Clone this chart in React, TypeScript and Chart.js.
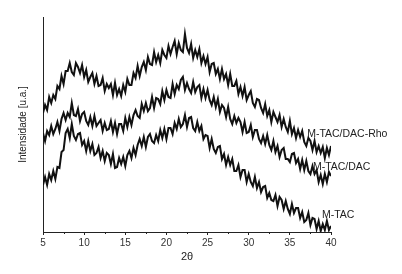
import React, { useEffect, useRef } from "react";
import { Chart, registerables } from "chart.js";

Chart.register(...registerables);

// 2θ sampling grid: 5 to 40 in steps of 0.25
const twoTheta: number[] = Array.from({ length: 141 }, (_, i) => 5 + i * 0.25);

const mTacDacRho: number[] = [
  119, 127, 122, 135, 129, 137, 133, 146, 143, 156, 148, 161, 161, 169, 160, 157,
  169, 165, 159, 167, 155, 162, 150, 155, 159, 148, 156, 146, 147, 154, 141, 148,
  144, 148, 137, 149, 137, 143, 136, 147, 140, 153, 147, 147, 159, 154, 166, 156,
  165, 170, 162, 175, 168, 167, 180, 170, 177, 169, 182, 177, 174, 186, 178, 185,
  191, 178, 189, 182, 180, 198, 184, 179, 188, 174, 182, 175, 183, 169, 176, 168,
  175, 160, 168, 169, 158, 163, 153, 163, 153, 158, 147, 158, 146, 146, 151, 138,
  145, 136, 145, 132, 137, 141, 129, 125, 133, 132, 124, 119, 128, 116, 122, 110,
  120, 115, 110, 117, 105, 113, 105, 100, 111, 98, 104, 94, 102, 95, 101, 90,
  86, 94, 91, 82, 91, 80, 86, 79, 85, 74, 84, 77, 86,
];

const mTacDac: number[] = [
  99, 91, 101, 97, 106, 98, 103, 110, 101, 113, 119, 112, 119, 115, 129, 117,
  116, 123, 111, 118, 120, 111, 107, 115, 106, 116, 106, 109, 112, 101, 109, 102,
  103, 111, 100, 109, 98, 108, 108, 101, 114, 105, 115, 107, 117, 122, 116, 114,
  128, 121, 129, 121, 124, 135, 124, 134, 133, 128, 141, 132, 142, 135, 134, 148,
  138, 147, 143, 152, 155, 142, 149, 143, 139, 150, 140, 145, 147, 134, 143, 134,
  142, 132, 127, 135, 125, 133, 120, 127, 124, 115, 125, 113, 108, 116, 109, 114,
  110, 100, 110, 99, 100, 107, 95, 102, 102, 93, 89, 96, 88, 97, 87, 82,
  91, 80, 86, 75, 82, 84, 73, 73, 70, 78, 79, 69, 73, 63, 72, 62,
  71, 61, 58, 66, 58, 62, 50, 57, 48, 58, 50, 60, 56,
];

const mTac: number[] = [
  47, 55, 47, 58, 52, 61, 53, 65, 64, 80, 82, 99, 103, 94, 108, 96,
  92, 98, 99, 87, 91, 81, 91, 81, 88, 77, 79, 85, 74, 81, 71, 79,
  77, 68, 78, 64, 65, 74, 68, 75, 66, 77, 81, 74, 84, 77, 87, 93,
  86, 95, 85, 95, 98, 91, 89, 97, 91, 102, 94, 103, 93, 104, 104, 98,
  109, 103, 113, 105, 108, 117, 105, 114, 115, 104, 101, 110, 101, 106, 93, 97,
  96, 84, 93, 83, 79, 85, 86, 73, 78, 67, 75, 67, 73, 61, 61, 67,
  55, 62, 62, 50, 58, 50, 46, 55, 44, 50, 40, 45, 46, 34, 39, 32,
  31, 37, 26, 35, 32, 23, 31, 23, 18, 28, 19, 24, 24, 14, 20, 10,
  12, 19, 7, 14, 13, 3, 11, 1, 8, 2, 11, 2, 6,
];

const xTicks: number[] = [5, 10, 15, 20, 25, 30, 35, 40];
const xMinorTicks: number[] = [7.5, 12.5, 17.5, 22.5, 27.5, 32.5, 37.5];

const seriesNames: string[] = ["M-TAC/DAC-Rho", "M-TAC/DAC", "M-TAC"];
const labelAtX: number[] = [37.1, 37.8, 38.9];
const labelAtY: number[] = [98, 65, 17];

const xTitle = "2θ";
const yTitle = "Intensidade [u.a.]";

const FONT = '"Liberation Sans", Arial, Helvetica, sans-serif';
const INK = "#222";

const toPoints = (vals: number[]) => twoTheta.map((x, i) => ({ x, y: vals[i] }));

export default function App() {
  const ref = useRef<HTMLCanvasElement | null>(null);

  useEffect(() => {
    if (!ref.current) return;
    const annot = {
      id: "annot",
      afterDraw(chart: any) {
        const { ctx } = chart;
        const x = chart.scales.x;
        const y = chart.scales.y;
        ctx.save();
        ctx.strokeStyle = INK;
        ctx.lineWidth = 1;
        for (const v of xMinorTicks) {
          const px = Math.round(x.getPixelForValue(v)) + 0.5;
          ctx.beginPath();
          ctx.moveTo(px, y.bottom);
          ctx.lineTo(px, y.bottom + 2);
          ctx.stroke();
        }
        ctx.fillStyle = INK;
        ctx.font = `10.5px ${FONT}`;
        ctx.textBaseline = "middle";
        ctx.textAlign = "left";
        seriesNames.forEach((name, i) => {
          ctx.fillText(name, x.getPixelForValue(labelAtX[i]), y.getPixelForValue(labelAtY[i]));
        });
        ctx.textAlign = "center";
        ctx.font = `11px ${FONT}`;
        ctx.fillText(xTitle, (x.left + x.right) / 2, 257);
        ctx.translate(23, (y.top + y.bottom) / 2);
        ctx.rotate(-Math.PI / 2);
        ctx.font = `10px ${FONT}`;
        ctx.fillText(yTitle, 0, 0);
        ctx.restore();
      },
    };

    const mk = (label: string, vals: number[]) => ({
      label,
      data: toPoints(vals),
      borderColor: "#111",
      borderWidth: 2,
      borderJoinStyle: "miter" as const,
      pointRadius: 0,
      tension: 0,
      fill: false,
    });

    const chart = new Chart(ref.current, {
      type: "line",
      data: {
        datasets: [mk(seriesNames[0], mTacDacRho), mk(seriesNames[1], mTacDac), mk(seriesNames[2], mTac)],
      },
      options: {
        animation: false,
        responsive: false,
        maintainAspectRatio: false,
        layout: { padding: { left: 43, top: 17, right: 71, bottom: 0 } },
        plugins: { legend: { display: false }, tooltip: { enabled: false } },
        scales: {
          x: {
            type: "linear",
            min: 5,
            max: 40,
            afterFit: (s: any) => {
              s.height = 42;
            },
            afterBuildTicks: (s: any) => {
              s.ticks = xTicks.map((v) => ({ value: v }));
            },
            grid: { display: true, drawOnChartArea: false, drawTicks: true, tickLength: 3, color: INK },
            border: { display: true, color: INK, width: 1 },
            ticks: { color: "#333", font: { family: FONT, size: 10 }, padding: 2, maxRotation: 0 },
          },
          y: {
            min: 0,
            max: 215,
            afterFit: (s: any) => {
              s.width = 0;
            },
            grid: { display: false },
            border: { display: true, color: INK, width: 1 },
            ticks: { display: false },
          },
        },
      },
      plugins: [annot],
    });
    return () => chart.destroy();
  }, []);

  return (
    <div style={{ position: "absolute", left: 0, top: 0, width: 402, height: 274, background: "#fff" }}>
      <canvas ref={ref} width={402} height={274} />
    </div>
  );
}
